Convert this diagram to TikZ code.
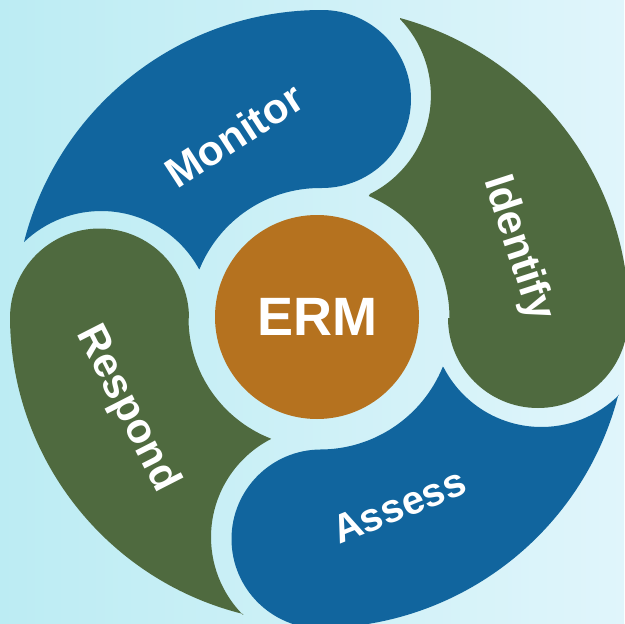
\documentclass[tikz,border=0pt]{standalone}
\usepackage{fontspec}
\setmainfont{Liberation Sans}
\definecolor{blueseg}{HTML}{11659E}
\definecolor{greenseg}{HTML}{4F6A3F}
\definecolor{ermcol}{HTML}{B5721F}
\definecolor{bgleft}{HTML}{BCECF3}
\definecolor{bgright}{HTML}{E0F5FB}
\tikzset{
  seglabel/.style={text=white,font=\bfseries\fontsize{42}{42}\selectfont,inner sep=0pt},
  ermnode/.style={circle,fill=ermcol,minimum size=204pt,inner sep=0pt,text=white,font=\bfseries\fontsize{54}{54}\selectfont}
}
% \carc{cx}{cy}{r}{start}{end}: arc about a centre, angles measured on the y-down page
\newcommand{\carc}[5]{([shift={(#1,#2)}]#4:#3) arc[start angle=#4,end angle=#5,radius=#3]}
\begin{document}
\begin{tikzpicture}[x=1pt,y=-1pt]
\useasboundingbox (0,0) rectangle (624,624);
\shade[left color=bgleft,right color=bgright] (0,0) rectangle (624,624);
% Monitor
\fill[blueseg] \carc{322}{317.4}{307.4}{-165.8}{-90}
  -- \carc{322}{99}{89}{-90}{90}
  -- \carc{320}{318}{130}{-90}{-158}
  -- \carc{101.2}{322.4}{111.4}{-28.6}{-133.8} -- cycle;
% Identify
\fill[greenseg] \carc{318}{318}{311}{-74.7}{0}
  -- \carc{538}{318}{90}{0}{180}
  -- \carc{317}{318}{132.5}{0}{-67}
  -- \carc{320.9}{95.5}{110}{63.5}{-44} -- cycle;
% Assess
\fill[blueseg] \carc{318}{318}{310}{14.35}{90}
  -- \carc{321}{539}{89.5}{90}{270}
  -- \carc{320}{317}{132.5}{90}{22}
  -- \carc{541.4}{317}{110}{152.4}{45.1} -- cycle;
% Respond
\fill[greenseg] \carc{317}{316}{307}{103.9}{180}
  -- \carc{99.5}{318}{89.5}{180}{360}
  -- \carc{318}{318}{129.5}{180}{111.2}
  -- \carc{321.4}{537.2}{110.4}{242.8}{135.2} -- cycle;
\node[ermnode] (erm) at (317,317) {ERM};
\node[seglabel,rotate=33] (monitor) at (234,135) {Monitor};
\node[seglabel,rotate=-72] (identify) at (517.5,248) {Identify};
\node[seglabel,font=\bfseries\fontsize{40}{40}\selectfont,rotate=22] (assess) at (399,506) {Assess};
\node[seglabel,rotate=-63] (respond) at (127,409) {Respond};
\end{tikzpicture}
\end{document}
